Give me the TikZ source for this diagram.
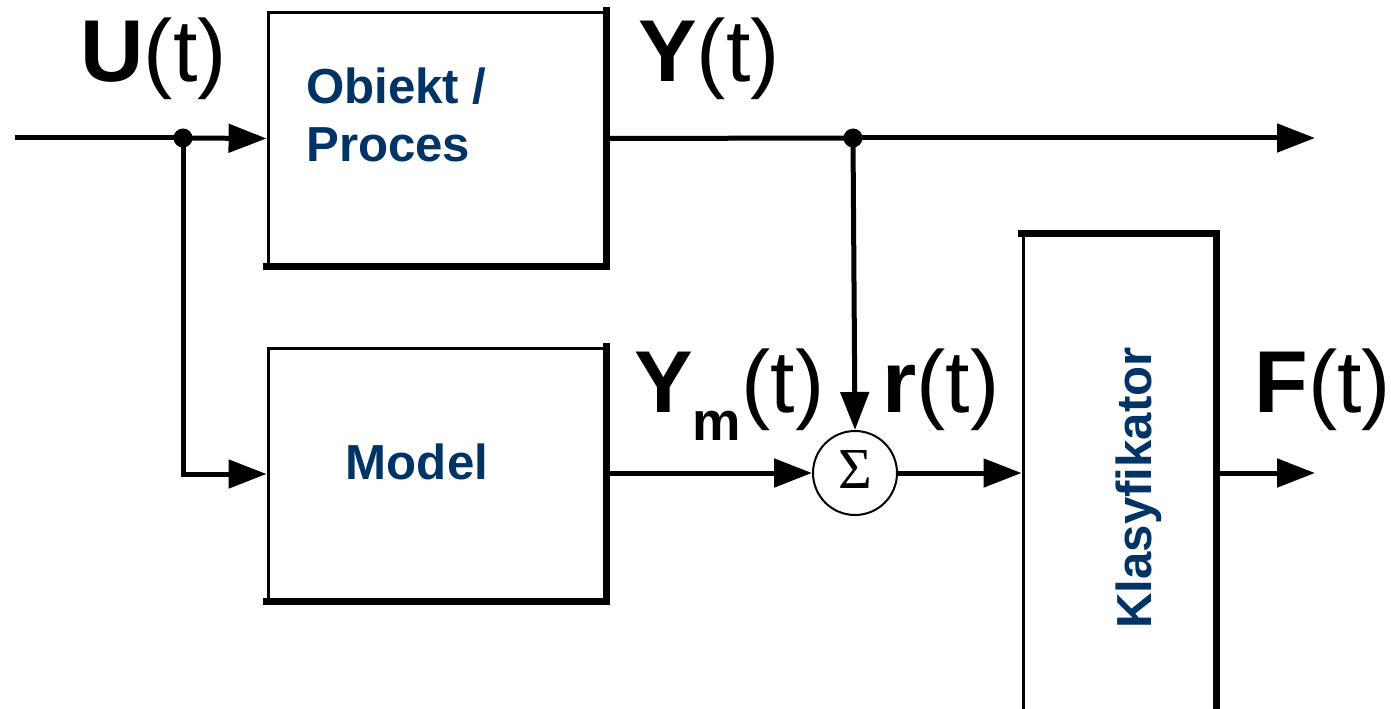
\documentclass[tikz,border=0pt]{standalone}
\usepackage{fontspec}
\setmainfont{Liberation Sans}
\newfontfamily\sigmafont{Liberation Serif}
\usetikzlibrary{arrows.meta}
\definecolor{navy}{RGB}{0,51,102}
\tikzset{
  blk/.style={draw, line width=0.06cm, fill=white, inner sep=0pt},
  shadowedge/.style={line width=0.13cm, line cap=rect},
  conn/.style={line width=0.1cm, -{Triangle[length=0.76cm,width=0.56cm]}},
  wire/.style={line width=0.1cm},
  dotnode/.style={circle, fill=black, inner sep=0pt, minimum size=0.38cm},
  blue/.style={text=navy, font=\fontsize{28}{33}\selectfont\bfseries},
  sig/.style={font=\fontsize{50}{56}\selectfont, anchor=base west, inner sep=0pt},
  sumnode/.style={draw, circle, line width=0.04cm, minimum size=1.68cm, inner sep=0pt, fill=white}
}
\begin{document}
\begin{tikzpicture}[x=0.02cm,y=-0.02cm]
\clip (0,0) rectangle (1391,709);
\fill[white] (0,0) rectangle (1391,709);
% boxes
\node[blk, minimum width=6.74cm, minimum height=5.06cm] (obj) at (436.5,138.5) {};
\node[blk, minimum width=6.74cm, minimum height=5.04cm] (mod) at (436.5,474) {};
\node[blk, minimum width=3.84cm, minimum height=9.7cm] (kl) at (1119,477.5) {};
\draw[shadowedge] (obj.north east) -- (obj.south east) -- (obj.south west);
\draw[shadowedge] (mod.north east) -- (mod.south east) -- (mod.south west);
\draw[shadowedge] (kl.north west) -- (kl.north east) -- (kl.south east);
% texts in boxes
\node[blue, align=left, anchor=west] (objt) at (300,115) {Obiekt /\\Proces};
\node[blue] (modt) at (417,462) {Model};
\node[blue, rotate=90] (klt) at (1139,488) {Klasyfikator};
% sum
\node[sumnode] (sum) at (855,473) {};
\node[font=\fontsize{33}{36}\sigmafont] (sumt) at (855,470) {Σ};
% coordinates
\coordinate (in) at (15,138);
\coordinate (j1) at (183,138);
\coordinate (c1) at (183,474);
\coordinate (j2) at (853,138);
\coordinate (outY) at (1315,138);
\coordinate (outF) at (1315,473);
% connectors
\draw[wire] (in) -- (j1);
\draw[conn] (j1) -- (obj.west);
\draw[conn] (j1) -- (c1) -- (mod.west);
\draw[wire] (obj.east) -- (j2);
\draw[conn] (j2) -- (outY);
\draw[conn] (j2) -- (sum.north);
\draw[conn] (mod.east |- sum.west) -- (sum.west);
\draw[conn] (sum.east) -- (kl.west |- sum.east);
\draw[conn] (kl.east |- outF) -- (outF);
\node[dotnode] (d1) at (j1) {};
\node[dotnode] (d2) at (j2) {};
% signal labels
\node[sig] (lu) at (80,82) {\textbf{U}(t)};
\node[sig] (ly) at (638,82) {\textbf{Y}(t)};
\node[sig] (lym) at (634,412) {\textbf{Y}\raisebox{-16pt}{\fontsize{31}{34}\selectfont\bfseries m}(t)};
\node[sig] (lr) at (882,412) {\textbf{r}(t)};
\node[sig] (lf) at (1254,412) {\textbf{F}(t)};
\end{tikzpicture}
\end{document}
